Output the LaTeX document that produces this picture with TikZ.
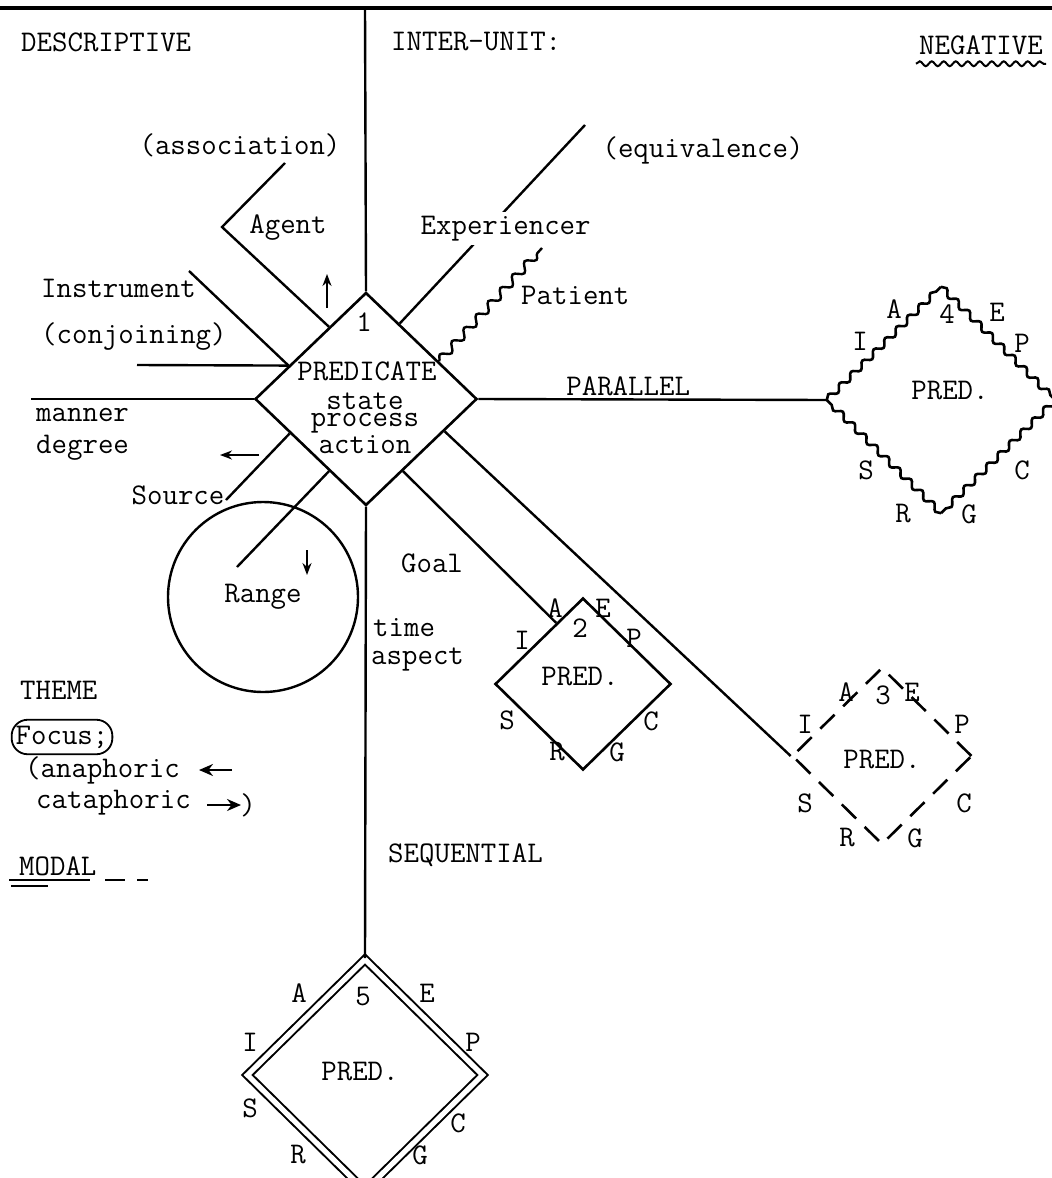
\documentclass[tikz,border=0pt]{standalone}
\usetikzlibrary{arrows.meta,calc,shapes.geometric,decorations.pathmorphing}

\begin{document}
\begin{tikzpicture}[
  x=0.5pt,
  y=-0.5pt,
  font=\ttfamily\fontsize{15}{17}\selectfont,
  line width=1.2pt,
  lab/.style={inner sep=1pt},
  pred/.style={draw, shape=diamond, inner sep=0pt, line width=1.3pt},
  wavy/.style={decorate, decoration={snake, segment length=8pt, amplitude=1.5pt}, line width=1.3pt},
  modal/.style={dash pattern=on 10pt off 6pt},
  pointer/.style={-{Stealth[length=6pt,width=4.5pt]}, line width=0.9pt}
]
\useasboundingbox (0,0) rectangle (1052,1178);

% predicates
\node[pred, minimum width=111pt, minimum height=106.5pt] (pred1) at (366,399) {};
\node[pred, minimum width=88pt, minimum height=86pt] (pred2) at (583,684) {};
\node[pred, dashed, dash pattern=on 10pt off 6pt, minimum width=90pt, minimum height=88.5pt] (pred3) at (882,756) {};
\node[shape=diamond, inner sep=0pt, minimum width=113pt, minimum height=112pt] (pred4) at (941,400) {};
\draw[wavy] (pred4.west) -- (pred4.north);
\draw[wavy] (pred4.north) -- (pred4.east);
\draw[wavy] (pred4.east) -- (pred4.south);
\draw[wavy] (pred4.south) -- (pred4.west);
\node[pred, double, double distance=2.6pt, line width=1pt, minimum width=118pt, minimum height=116pt] (pred5) at (365,1075) {};

\node[draw, circle, minimum size=95pt, inner sep=0pt] (range) at (263,597) {Range};

% texts of the main predicate
\node[lab] (num1) at (364,322) {1};
\node[lab] (predtxt) at (367,371) {PREDICATE};
\node[lab, align=center, font=\ttfamily\fontsize{15}{8.6}\selectfont] (kinds) at (365,423) {state\\process\\action};

% heading texts
\node[lab, anchor=west] (descr) at (18,42) {DESCRIPTIVE};
\node[lab, anchor=west] (interunit) at (388,42) {INTER-UNIT:};
\node[lab, anchor=east] (negative) at (1046,45) {NEGATIVE};
\draw[decorate, decoration={snake, segment length=6pt, amplitude=1.2pt}, line width=1pt]
  ([yshift=-3pt]negative.south west) -- ([yshift=-3pt]negative.south east);

% case labels
\node[lab] (assoc) at (240,145) {(association)};
\node[lab] (equiv) at (703,150) {(equivalence)};
\node[lab] (agent) at (288,228) {Agent};
\node[lab, anchor=west] (instr) at (38,288) {Instrument};
\node[lab, anchor=west] (patient) at (518,295) {Patient};
\node[lab, anchor=west] (conj) at (38,337) {(conjoining)};
\node[lab, anchor=west] (manner) at (33,415) {manner};
\node[lab, anchor=west] (degree) at (33,448) {degree};
\node[lab] (source) at (178,495) {Source};
\node[lab] (goal) at (432,563) {Goal};
\node[lab, anchor=west] (time) at (370,628) {time};
\node[lab, anchor=west] (aspect) at (368,660) {aspect};

% theme and modal
\node[lab, anchor=west] (theme) at (17,690) {THEME};
\node[draw, rounded corners=8pt, inner xsep=2pt, inner ysep=3pt, line width=0.9pt] (focus) at (62,737) {Focus;};
\node[lab, anchor=west] (anaph) at (22,770) {(anaphoric};
\node[lab, anchor=west] (cataph) at (33,803) {cataphoric};
\node[lab] (closep) at (248,805) {)};
\node[lab, anchor=west] (modaltxt) at (16,866) {MODAL};
\node[lab, anchor=west] (seq) at (385,855) {SEQUENTIAL};

% connectors
\coordinate (topleft) at (0,8);
\coordinate (topright) at (1052,8);
\draw[line width=2pt] (topleft) -- (topright);
\coordinate (pivot) at (365,8);
\draw (pivot) -- (pred1.north);

\coordinate (agentbend) at (222,227);
\coordinate (agentend) at (285,163);
\draw ($(pred1.north)!0.33!(pred1.west)$) -- (agentbend) -- (agentend);

\coordinate (experend) at (585,125);
\draw ($(pred1.north)!0.3!(pred1.east)$) -- node[pos=0.48, xshift=8.5pt, fill=white, inner sep=2pt] (exper) {Experiencer} (experend);

\coordinate (patientend) at (542,248);
\draw[decorate, decoration={snake, segment length=9pt, amplitude=2pt}] ($(pred1.north)!0.65!(pred1.east)$) -- (patientend);

\coordinate (instrend) at (189,271);
\coordinate (instrfoot) at ($(pred1.north)!0.69!(pred1.west)$);
\coordinate (conjend) at (137,365);
\draw (instrend) -- (instrfoot);
\draw (conjend) -- (instrfoot);

\coordinate (mannerend) at (31,399);
\draw (mannerend) -- (pred1.west);

\coordinate (sourceend) at (226,500);
\draw ($(pred1.south)!0.68!(pred1.west)$) -- (sourceend);

\coordinate (rangeend) at (237,567);
\draw ($(pred1.south)!0.33!(pred1.west)$) -- (rangeend);

\draw ($(pred1.south)!0.33!(pred1.east)$) -- ($(pred2.north)!0.3!(pred2.west)$);
\draw ($(pred1.south)!0.7!(pred1.east)$) -- (pred3.west);
\draw (pred1.east) -- node[above=0pt, pos=0.43, inner sep=1pt] (parallel) {PARALLEL} (pred4.west);
\draw (pred1.south) -- (pred5.north);

% little arrows
\coordinate (upfrom) at (327,308);
\coordinate (upto) at (327,274);
\draw[pointer] (upfrom) -- (upto);
\coordinate (leftfrom) at (259,455);
\coordinate (leftto) at (220,455);
\draw[pointer] (leftfrom) -- (leftto);
\coordinate (downfrom) at (307,550);
\coordinate (downto) at (307,575);
\draw[pointer] (downfrom) -- (downto);
\coordinate (anaphfrom) at (232,770);
\coordinate (anaphto) at (199,770);
\draw[-{Stealth[length=7pt,width=6pt]}, line width=1.1pt] (anaphfrom) -- (anaphto);
\coordinate (catafrom) at (207,805);
\coordinate (catato) at (241,805);
\draw[-{Stealth[length=7pt,width=6pt]}, line width=1.1pt] (catafrom) -- (catato);

% modal marks
\coordinate (ul1a) at (9,880);
\coordinate (ul1b) at (90,880);
\coordinate (ul2a) at (11,886);
\coordinate (ul2b) at (48,886);
\draw[line width=1pt] (ul1a) -- (ul1b);
\draw[line width=1pt] (ul2a) -- (ul2b);
\coordinate (dasha) at (105,880);
\coordinate (dashb) at (148,880);
\draw[modal] (dasha) -- (dashb);

% labels round PRED. 2
\node[lab] (a2) at (555,608) {A};
\node[lab] (e2) at (603,608) {E};
\node[lab] (n2) at (580,628) {2};
\node[lab] (i2) at (522,640) {I};
\node[lab] (p2) at (634,638) {P};
\node[lab] (t2) at (580,677) {PRED.};
\node[lab] (s2) at (507,720) {S};
\node[lab] (c2) at (651,721) {C};
\node[lab] (r2) at (557,752) {R};
\node[lab] (g2) at (617,752) {G};

% labels round PRED. 3
\node[lab] (a3) at (846,692) {A};
\node[lab] (n3) at (883,695) {3};
\node[lab] (e3) at (912,692) {E};
\node[lab] (i3) at (805,724) {I};
\node[lab] (p3) at (962,724) {P};
\node[lab] (t3) at (882,760) {PRED.};
\node[lab] (s3) at (805,803) {S};
\node[lab] (c3) at (964,803) {C};
\node[lab] (r3) at (847,838) {R};
\node[lab] (g3) at (915,838) {G};

% labels round PRED. 4
\node[lab] (a4) at (894,309) {A};
\node[lab] (n4) at (947,314) {4};
\node[lab] (e4) at (997,312) {E};
\node[lab] (i4) at (860,341) {I};
\node[lab] (p4) at (1022,343) {P};
\node[lab] (t4) at (950,391) {PRED.};
\node[lab] (s4) at (866,470) {S};
\node[lab] (c4) at (1022,470) {C};
\node[lab] (r4) at (903,514) {R};
\node[lab] (g4) at (969,514) {G};

% labels round PRED. 5
\node[lab] (a5) at (299,993) {A};
\node[lab] (n5) at (363,997) {5};
\node[lab] (e5) at (427,993) {E};
\node[lab] (i5) at (250,1042) {I};
\node[lab] (p5) at (473,1042) {P};
\node[lab] (t5) at (360,1072) {PRED.};
\node[lab] (s5) at (250,1108) {S};
\node[lab] (c5) at (458,1123) {C};
\node[lab] (r5) at (298,1155) {R};
\node[lab] (g5) at (420,1155) {G};

\end{tikzpicture}
\end{document}
